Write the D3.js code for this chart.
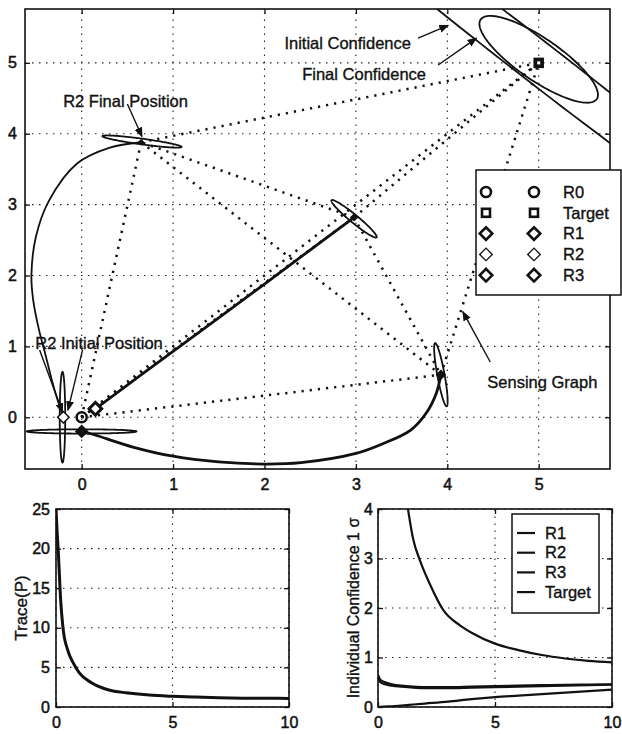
<!DOCTYPE html>
<html lang="en">
<head>
<meta charset="UTF-8">
<title>Cooperative Localization</title>
<script src="https://cdn.jsdelivr.net/npm/d3@7"></script>
<style>
  body { margin: 0; background: #fff; }
  svg { display: block; font-family: "Liberation Sans", Arial, sans-serif; }
  svg text { stroke: #111; stroke-width: 0.35px; }
  .tick text { font-size: 16px; fill: #111; stroke-width: 0.5px; }
</style>
</head>
<body>
<div id="chart"></div>
<script>
// ---- data: main plane (x, y in metres) ----
const r0Pos = [0, 0];
const targetPos = [5, 5];
const r1Path = [[0.15, 0.12], [1.0, 0.93], [2.0, 1.88], [2.98, 2.82]];
const r2Path = [[-0.2, 0], [-0.3, 0.4], [-0.39, 0.85], [-0.47, 1.25], [-0.53, 1.65], [-0.55, 2.0],
                [-0.5, 2.55], [-0.36, 3.05], [-0.05, 3.58], [0.3, 3.8], [0.65, 3.88]];
const r3Path = [[0, -0.2], [0.12, -0.24], [0.56, -0.42], [1.0, -0.55], [1.5, -0.63], [2.0, -0.66],
                [2.4, -0.64], [3.0, -0.51], [3.3, -0.37], [3.6, -0.18], [3.77, 0.06], [3.88, 0.34], [3.93, 0.6]];
// confidence ellipses: centre, semi axes, angle (deg)
const ellipses = [
  {cx: 5.0, cy: 5.0, a: 4.5, b: 0.26, ang: -45},   // target initial
  {cx: 5.0, cy: 5.05, a: 0.85, b: 0.27, ang: -43}, // target final
  {cx: 2.98, cy: 2.8, a: 0.36, b: 0.05, ang: -47},
  {cx: 0.66, cy: 3.89, a: 0.44, b: 0.04, ang: -10},
  {cx: 3.93, cy: 0.6, a: 0.45, b: 0.04, ang: -82},
  {cx: -0.21, cy: 0, a: 0.64, b: 0.03, ang: 90},
  {cx: 0, cy: -0.2, a: 0.6, b: 0.03, ang: 0}
];
// sensing graph at the final time
const graphNodes = {R0: [0, 0], R1: [2.98, 2.82], R2: [0.65, 3.88], R3: [3.93, 0.6], T: [5, 5]};
const graphEdges = [["R0","T"],["R0","R1"],["R0","R2"],["R0","R3"],["R1","T"],["R1","R2"],
                    ["R1","R3"],["R2","T"],["R2","R3"],["R3","T"]];
const mainTicks = [0, 1, 2, 3, 4, 5];
const legendNames = ["R0", "Target", "R1", "R2", "R3"];

// ---- data: trace of P ----
const traceT = [0, 0.05, 0.1, 0.2, 0.3, 0.5, 0.75, 1, 1.5, 2, 2.5, 3, 4, 5, 6, 7, 8, 9, 10];
const traceV = [25, 22, 19.5, 13.5, 10, 7.2, 5.5, 4.3, 3.1, 2.4, 2.0, 1.8, 1.5, 1.35, 1.25, 1.18, 1.12, 1.1, 1.08];

// ---- data: individual confidence ----
const confT = [0, 0.1, 0.3, 0.6, 1, 1.5, 2, 3, 4, 5, 6, 7, 8, 9, 10];
const confR1 = [0, 0.005, 0.01, 0.015, 0.03, 0.05, 0.07, 0.11, 0.16, 0.2, 0.23, 0.26, 0.29, 0.32, 0.35];
const confR2 = [0.65, 0.55, 0.5, 0.46, 0.43, 0.41, 0.4, 0.4, 0.41, 0.42, 0.43, 0.44, 0.45, 0.455, 0.46];
const confR3 = [0.58, 0.5, 0.46, 0.43, 0.41, 0.39, 0.38, 0.38, 0.39, 0.4, 0.41, 0.42, 0.43, 0.44, 0.45];
const targetT = [1.28, 1.5, 1.8, 2.2, 2.8, 3.5, 4, 5, 6, 7, 8, 9, 10];
const targetV = [4, 3.4, 2.95, 2.5, 1.95, 1.65, 1.5, 1.28, 1.15, 1.05, 0.98, 0.93, 0.9];
const confTicksY = [0, 1, 2, 3, 4];
const timeTicks = [0, 5, 10];
const traceTicksY = [0, 5, 10, 15, 20, 25];
const confNames = ["R1", "R2", "R3", "Target"];

const W = 622, H = 734;
const svg = d3.select("#chart").append("svg").attr("width", W).attr("height", H);
const ink = "#111";

svg.append("defs").append("marker")
  .attr("id", "arrow").attr("viewBox", "0 0 10 10").attr("refX", 9).attr("refY", 5)
  .attr("markerWidth", 10).attr("markerHeight", 10).attr("markerUnits", "userSpaceOnUse")
  .attr("orient", "auto")
  .append("path").attr("d", "M0,1 L10,5 L0,9 Z").attr("fill", ink);

// draws frame, inward ticks on all sides, dotted grid and labels
function axesBox(g, x, y, xt, yt, id, padY) {
  const [x0, x1] = x.range(), [y0, y1] = y.range();
  const fmt = d3.format("d");
  g.append("defs").append("clipPath").attr("id", id)
    .append("rect").attr("x", x0).attr("y", y1).attr("width", x1 - x0).attr("height", y0 - y1);
  const grid = g.append("g").attr("stroke", "#222").attr("stroke-width", 1.1).attr("stroke-dasharray", "1.5,5.5");
  grid.selectAll(".gx").data(xt).join("line")
    .attr("x1", d => x(d)).attr("x2", d => x(d)).attr("y1", y0).attr("y2", y1);
  grid.selectAll(".gy").data(yt).join("line")
    .attr("x1", x0).attr("x2", x1).attr("y1", d => y(d)).attr("y2", d => y(d));
  const ax = [
    [d3.axisBottom(x).tickValues(xt).tickFormat(fmt).tickPadding(10), `translate(0,${y0})`],
    [d3.axisTop(x).tickValues(xt).tickFormat(""), `translate(0,${y1})`],
    [d3.axisLeft(y).tickValues(yt).tickFormat(fmt).tickPadding(padY), `translate(${x0},0)`],
    [d3.axisRight(y).tickValues(yt).tickFormat(""), `translate(${x1},0)`]
  ];
  ax.forEach(([a, tr]) => {
    const ag = g.append("g").attr("transform", tr).call(a.tickSize(-5));
    ag.select(".domain").remove();
    ag.selectAll(".tick line").attr("stroke", ink).attr("stroke-width", 1.3);
    ag.attr("font-family", null).attr("font-size", null);
  });
  g.append("rect").attr("x", x0).attr("y", y1).attr("width", x1 - x0).attr("height", y0 - y1)
    .attr("fill", "none").attr("stroke", ink).attr("stroke-width", 1.6);
}

// ===== main plane =====
const x = d3.scaleLinear().domain([-0.62, 5.78]).range([25, 610]);
const y = d3.scaleLinear().domain([-0.73, 5.76]).range([469, 9]);
const gm = svg.append("g");
axesBox(gm, x, y, mainTicks, mainTicks, "clipMain", 8);
const plot = gm.append("g").attr("clip-path", "url(#clipMain)");
const line = d3.line().x(d => x(d[0])).y(d => y(d[1]));

// sensing graph
plot.append("g").selectAll("line").data(graphEdges).join("line")
  .attr("x1", d => x(graphNodes[d[0]][0])).attr("y1", d => y(graphNodes[d[0]][1]))
  .attr("x2", d => x(graphNodes[d[1]][0])).attr("y2", d => y(graphNodes[d[1]][1]))
  .attr("stroke", ink).attr("stroke-width", 2.5).attr("stroke-dasharray", "2.2,6")
  .attr("stroke-linecap", "butt");

// ellipses
function ellipsePts(e) {
  const t = d3.range(0, 2 * Math.PI, Math.PI / 90), r = e.ang * Math.PI / 180;
  return t.map(s => [e.cx + e.a * Math.cos(s) * Math.cos(r) - e.b * Math.sin(s) * Math.sin(r),
                     e.cy + e.a * Math.cos(s) * Math.sin(r) + e.b * Math.sin(s) * Math.cos(r)]);
}
plot.selectAll(".ell").data(ellipses).join("path")
  .attr("d", d => d3.line().x(p => x(p[0])).y(p => y(p[1])).curve(d3.curveLinearClosed)(ellipsePts(d)))
  .attr("fill", "none").attr("stroke", ink).attr("stroke-width", 1.8);

// trajectories
[r1Path, r2Path, r3Path].forEach((p, i) => {
  plot.append("path").attr("d", line.curve(d3.curveCatmullRom)(p))
    .attr("fill", "none").attr("stroke", ink).attr("stroke-width", i === 1 ? 1.8 : 2.8);
});

// markers
const diamond = d3.symbol().type(d3.symbolSquare);
function mark(g, type, px, py, size, fill, sw) {
  if (type === "circle") {
    g.append("circle").attr("cx", px).attr("cy", py).attr("r", size / 2)
      .attr("fill", fill).attr("stroke", ink).attr("stroke-width", sw);
  } else if (type === "square") {
    g.append("rect").attr("x", px - size / 2).attr("y", py - size / 2).attr("width", size).attr("height", size)
      .attr("fill", fill).attr("stroke", ink).attr("stroke-width", sw);
  } else {
    g.append("path").attr("d", diamond.size(size * size * 0.55)())
      .attr("transform", `translate(${px},${py}) rotate(45)`)
      .attr("fill", fill).attr("stroke", ink).attr("stroke-width", sw);
  }
}
mark(plot, "circle", x(r0Pos[0]), y(r0Pos[1]), 10, "none", 2.5);
mark(plot, "diamond", x(r1Path[0][0]), y(r1Path[0][1]), 12, "#fff", 3);
mark(plot, "diamond", x(r2Path[0][0]), y(r2Path[0][1]), 11, "#fff", 1.5);
mark(plot, "diamond", x(r3Path[0][0]), y(r3Path[0][1]), 11, ink, 1.5);
mark(plot, "diamond", x(r1Path[r1Path.length - 1][0]), y(r1Path[r1Path.length - 1][1]), 6, ink, 1.5);
mark(plot, "diamond", x(r2Path[r2Path.length - 1][0]), y(r2Path[r2Path.length - 1][1]), 5, ink, 1);
mark(plot, "diamond", x(r3Path[r3Path.length - 1][0]), y(r3Path[r3Path.length - 1][1]), 8, ink, 1.5);
mark(plot, "square", x(targetPos[0]), y(targetPos[1]), 9, ink, 1.5);
plot.append("rect").attr("x", x(targetPos[0]) - 1.5).attr("y", y(targetPos[1]) - 1.5)
  .attr("width", 3).attr("height", 3).attr("fill", "#fff");

// annotations (data coordinates)
const notes = [
  {text: "R2 Final Position", tx: 0.48, ty: 4.46, arrows: [[0.5, 4.42, 0.66, 3.96]]},
  {text: "R2 Initial Position", tx: 0.19, ty: 1.05, arrows: [[-0.46, 0.95, -0.21, 0.07], [0.01, 0.95, -0.15, 0.1]]},
  {text: "Initial Confidence", tx: 2.91, ty: 5.28, arrows: [[3.68, 5.35, 4.01, 5.53]]},
  {text: "Final Confidence", tx: 3.09, ty: 4.84, arrows: [[3.9, 4.97, 4.32, 5.35]]},
  {text: "Sensing Graph", tx: 5.04, ty: 0.5, arrows: [[4.47, 0.78, 4.17, 1.49]]}
];
notes.forEach(n => {
  n.arrows.forEach(a => {
    gm.append("line").attr("x1", x(a[0])).attr("y1", y(a[1])).attr("x2", x(a[2])).attr("y2", y(a[3]))
      .attr("stroke", ink).attr("stroke-width", 1.4).attr("marker-end", "url(#arrow)");
  });
  gm.append("text").attr("x", x(n.tx)).attr("y", y(n.ty)).attr("dy", "0.35em")
    .attr("text-anchor", "middle").attr("font-size", 16.5).attr("fill", ink).text(n.text);
});

// legend
const lg = gm.append("g").attr("transform", "translate(476,170)");
lg.append("rect").attr("width", 145).attr("height", 125).attr("fill", "#fff")
  .attr("stroke", ink).attr("stroke-width", 1.5);
const legendMarks = [["circle", 10, "none", 2.6], ["square", 8, "#fff", 2.6], ["diamond", 12, "#fff", 2.6],
                     ["diamond", 12, "#fff", 1.3], ["diamond", 12, "#fff", 2.6]];
legendNames.forEach((nm, i) => {
  const yy = 22 + i * 20.8;
  const m = legendMarks[i];
  mark(lg, m[0], 10, yy, m[1], m[2], m[3]);
  mark(lg, m[0], 58, yy, m[1], m[2], m[3]);
  lg.append("text").attr("x", 87).attr("y", yy).attr("dy", "0.35em")
    .attr("font-size", 16.5).attr("fill", ink).text(nm);
});

// ===== trace plot =====
const xt = d3.scaleLinear().domain([0, 10]).range([56, 289]);
const yt = d3.scaleLinear().domain([0, 25]).range([707, 509]);
const gt = svg.append("g");
axesBox(gt, xt, yt, timeTicks, traceTicksY, "clipTrace", 6);
gt.append("g").attr("clip-path", "url(#clipTrace)").append("path")
  .attr("d", d3.line().x((d, i) => xt(traceT[i])).y(d => yt(d)).curve(d3.curveMonotoneX)(traceV))
  .attr("fill", "none").attr("stroke", ink).attr("stroke-width", 3);
gt.append("text").attr("transform", `translate(21,${(509 + 707) / 2}) rotate(-90)`)
  .attr("dy", "0.35em").attr("text-anchor", "middle").attr("font-size", 17).attr("fill", ink).text("Trace(P)");

// ===== individual confidence plot =====
const xc = d3.scaleLinear().domain([0, 10]).range([378, 612]);
const yc = d3.scaleLinear().domain([0, 4]).range([707, 509]);
const gc = svg.append("g");
axesBox(gc, xc, yc, timeTicks, confTicksY, "clipConf", 5);
const cplot = gc.append("g").attr("clip-path", "url(#clipConf)");
const cline = d3.line().x(d => xc(d[0])).y(d => yc(d[1])).curve(d3.curveMonotoneX);
const confSeries = [d3.zip(confT, confR1), d3.zip(confT, confR2), d3.zip(confT, confR3), d3.zip(targetT, targetV)];
confSeries.forEach(s => {
  cplot.append("path").attr("d", cline(s)).attr("fill", "none").attr("stroke", ink).attr("stroke-width", 2.2);
});
gc.append("text").attr("transform", `translate(353,${(509 + 707) / 2}) rotate(-90)`)
  .attr("dy", "0.35em").attr("text-anchor", "middle").attr("font-size", 16).attr("fill", ink)
  .text("Individual Confidence 1 σ");
const cl = gc.append("g").attr("transform", "translate(512,514)");
cl.append("rect").attr("width", 87).attr("height", 99).attr("fill", "#fff")
  .attr("stroke", ink).attr("stroke-width", 1.5);
confNames.forEach((nm, i) => {
  const yy = 19 + i * 19.7;
  cl.append("line").attr("x1", 5).attr("x2", 23).attr("y1", yy).attr("y2", yy)
    .attr("stroke", ink).attr("stroke-width", 2.2);
  cl.append("text").attr("x", 33).attr("y", yy).attr("dy", "0.35em")
    .attr("font-size", 16.5).attr("fill", ink).text(nm);
});
</script>
</body>
</html>
